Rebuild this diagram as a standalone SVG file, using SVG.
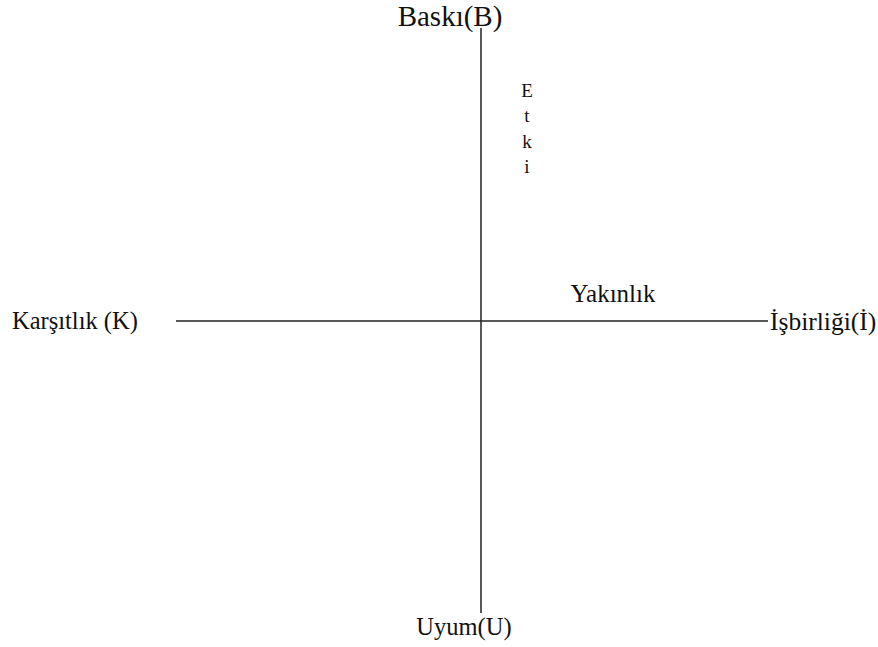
<svg xmlns="http://www.w3.org/2000/svg" width="878" height="647" viewBox="0 0 878 647">
<style>
text{font-family:"Liberation Serif","Times New Roman",serif;fill:#111}
.ax{stroke:#222;stroke-width:1.5;fill:none}
</style>
<rect width="878" height="647" fill="#fff"/>
<g id="connectors">
<line class="ax" x1="481" y1="28" x2="481" y2="613"/>
<line class="ax" x1="176" y1="321" x2="768" y2="321"/>
</g>
<g id="baski"><text x="450" y="26" font-size="29" text-anchor="middle">Baskı(B)</text></g>
<g id="etki"><text x="527" y="97" font-size="19" text-anchor="middle">E</text><text x="527" y="122" font-size="19" text-anchor="middle">t</text><text x="527" y="148" font-size="19" text-anchor="middle">k</text><text x="527" y="173" font-size="19" text-anchor="middle">i</text></g>
<g id="karsitlik"><text x="12" y="329" font-size="24.5">Karşıtlık (K)</text></g>
<g id="yakinlik"><text x="613" y="302" font-size="25" text-anchor="middle">Yakınlık</text></g>
<g id="isbirligi"><text x="770" y="330" font-size="25.5">İşbirliği(İ)</text></g>
<g id="uyum"><text x="464" y="635" font-size="24.5" text-anchor="middle">Uyum(U)</text></g>
</svg>
